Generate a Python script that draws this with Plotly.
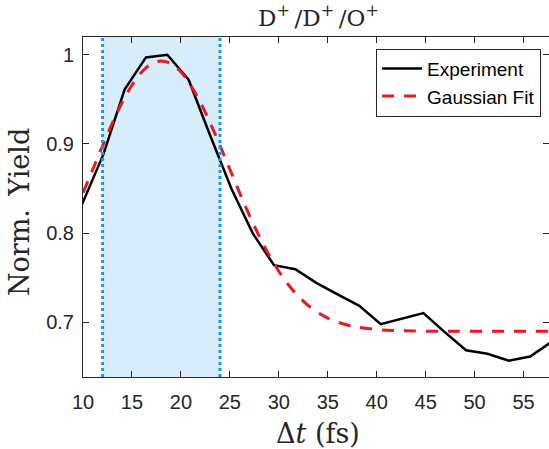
import plotly.graph_objects as go

# Experiment data
exp_t = [9.89, 12.07, 14.25, 16.43, 18.61, 20.79, 22.97, 25.15, 27.33, 29.51,
         31.69, 33.87, 36.05, 38.23, 40.41, 42.59, 44.77, 46.95, 49.13, 51.31,
         53.49, 55.67, 57.85]
exp_y = [0.832, 0.888, 0.961, 0.997, 1.000, 0.972, 0.910, 0.850, 0.800, 0.764,
         0.7595, 0.744, 0.731, 0.7185, 0.698, 0.704, 0.7103, 0.689, 0.6687, 0.6648,
         0.657, 0.6616, 0.678]

# Gaussian fit curve
fit_t = [10, 11, 12, 13, 14, 15, 16, 17, 18, 19, 20, 21, 22, 23, 24, 25, 26, 27,
         28, 29, 30, 31, 32, 33, 34, 35, 36, 37, 38, 40, 42, 45, 50, 58]
fit_y = [0.8452, 0.8716, 0.898, 0.9234, 0.9464, 0.9658, 0.9806, 0.9899, 0.993,
         0.9899, 0.9806, 0.9658, 0.9464, 0.9234, 0.898, 0.8716, 0.8452, 0.820,
         0.7966, 0.7756, 0.7573, 0.7418, 0.7291, 0.7189, 0.7109, 0.7048, 0.7003,
         0.697, 0.6946, 0.6919, 0.6907, 0.6901, 0.690, 0.690]

window_start = 12
window_end = 24

x_ticks = [10, 15, 20, 25, 30, 35, 40, 45, 50, 55]
y_ticks = [0.7, 0.8, 0.9, 1.0]
y_tick_labels = ["0.7", "0.8", "0.9", "1"]

fig = go.Figure()

fig.add_vrect(x0=window_start, x1=window_end, fillcolor="rgb(216,237,251)",
              line_width=0, layer="below")
for xv in (window_start, window_end):
    fig.add_vline(x=xv, line=dict(color="rgb(20,152,242)", width=3, dash="dot"))

fig.add_trace(go.Scatter(x=exp_t, y=exp_y, mode="lines", name="Experiment",
                         line=dict(color="black", width=2.5)))
fig.add_trace(go.Scatter(x=fit_t, y=fit_y, mode="lines", name="Gaussian Fit",
                         line=dict(color="rgb(235,25,30)", width=3, dash="12px,10px",
                                   shape="spline")))

axis_common = dict(showgrid=False, zeroline=False, showline=True, linecolor="#262626",
                   linewidth=1, mirror="ticks", ticks="inside", ticklen=6,
                   tickcolor="#262626",
                   tickfont=dict(family="Liberation Sans, Arial", size=20, color="#262626"))

fig.update_layout(
    width=549, height=449,
    margin=dict(l=83, r=0, t=37, b=72),
    paper_bgcolor="white", plot_bgcolor="white",
    xaxis=dict(range=[10, 57.6], tickvals=x_ticks, ticklabelstandoff=7, **axis_common),
    yaxis=dict(range=[0.6387, 1.0199], tickvals=y_ticks, ticktext=y_tick_labels,
               ticklabelstandoff=4, **axis_common),
    showlegend=True,
    legend=dict(x=0.983, y=0.966, xanchor="right", yanchor="top",
                bgcolor="white", bordercolor="#262626", borderwidth=1,
                font=dict(family="Liberation Sans, Arial", size=19, color="black"),
                tracegroupgap=0, itemwidth=40),
    annotations=[
        dict(text="D<sup>+</sup>\u2009/D<sup>+</sup>\u2009/O<sup>+</sup>", xref="paper",
             yref="paper", x=0.5, xshift=2, y=1, yshift=21, xanchor="center",
             yanchor="middle", showarrow=False,
             font=dict(family="DejaVu Serif, Liberation Serif", size=23, color="#262626")),
        dict(text="Δ<i>t</i> (fs)", xref="paper", yref="paper", x=0.5, xshift=2, y=0,
             yshift=-56, xanchor="center", yanchor="middle", showarrow=False,
             font=dict(family="DejaVu Serif, Liberation Serif", size=27, color="#262626")),
        dict(text="Norm.\u2002Yield", xref="paper", yref="paper", x=0, xshift=-64,
             y=0.485, xanchor="center", yanchor="middle", textangle=-90, showarrow=False,
             font=dict(family="DejaVu Serif, Liberation Serif", size=27, color="#262626")),
    ],
)

fig.write_html("out.html", config={"displayModeBar": False},
               post_script="document.body.style.margin='0';")
